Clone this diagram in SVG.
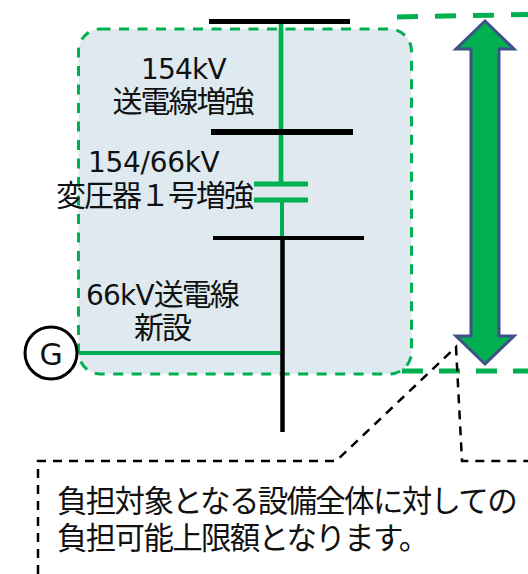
<svg xmlns="http://www.w3.org/2000/svg" width="528" height="574" viewBox="0 0 528 574">
<style>
text{font-family:"DejaVu Sans","Noto Sans CJK JP",sans-serif;fill:#111;font-size:28px;letter-spacing:-.8px}
.j{font-size:30px;letter-spacing:-2px}
.k{font-size:30.500px;letter-spacing:-1.700px}
.b{stroke:#000;fill:none}
.g{stroke:#00b050;fill:none}
.d{stroke:#000;stroke-width:2.500;stroke-dasharray:9 7;fill:none}
</style>
<g id="panel"><rect x="78.500" y="29" width="333" height="345" rx="22" fill="#deeaef" stroke="#00b050" stroke-width="3" stroke-dasharray="10 8.500"/></g>
<g id="connectors">
<path class="g" stroke-width="4.700" d="M281 24V183"/>
<path class="g" stroke-width="4" d="M282 200V238M79 353H281"/>
<path class="g" stroke-width="5" d="M254 184H308M254 200H308"/>
<path class="b" stroke-width="5" d="M209 21.500H350"/>
<path class="b" stroke-width="6" d="M211 132H353"/>
<path class="b" stroke-width="4" d="M213 238H364"/>
<path class="b" stroke-width="4.500" d="M282.500 240V432"/>
<path class="g" stroke-width="5" stroke-dasharray="21 17" d="M397 17L528 14.500"/>
<path class="g" stroke-width="5" stroke-dasharray="21 16" d="M402 371H528"/>
<path class="d" d="M38 574V461H336L456 347L462 461H528"/>
</g>
<g id="arrow"><path d="M485 21L514 49H499V336H514L485 364L456 336H471V49H456Z" fill="#00b050" stroke="#3f5287" stroke-width="3"/></g>
<g id="G"><circle cx="51" cy="353" r="26" fill="#fff" stroke="#000" stroke-width="3"/><text x="51" y="365" text-anchor="middle" style="font-size:30px;letter-spacing:0">G</text></g>
<g id="labels">
<text x="141" y="79">154kV</text>
<text class="j" x="112.500" y="112">送電線増強</text>
<text x="88" y="172" style="letter-spacing:-.3px">154/66kV</text>
<text class="j" x="56" y="206">変圧器１号増強</text>
<text x="86" y="305">66kV<tspan class="j">送電線</tspan></text>
<text class="j" x="134" y="337.500">新設</text>
<text class="k" x="57" y="512">負担対象となる設備全体に対しての</text>
<text class="k" x="57" y="549">負担可能上限額となります。</text>
</g>
</svg>
